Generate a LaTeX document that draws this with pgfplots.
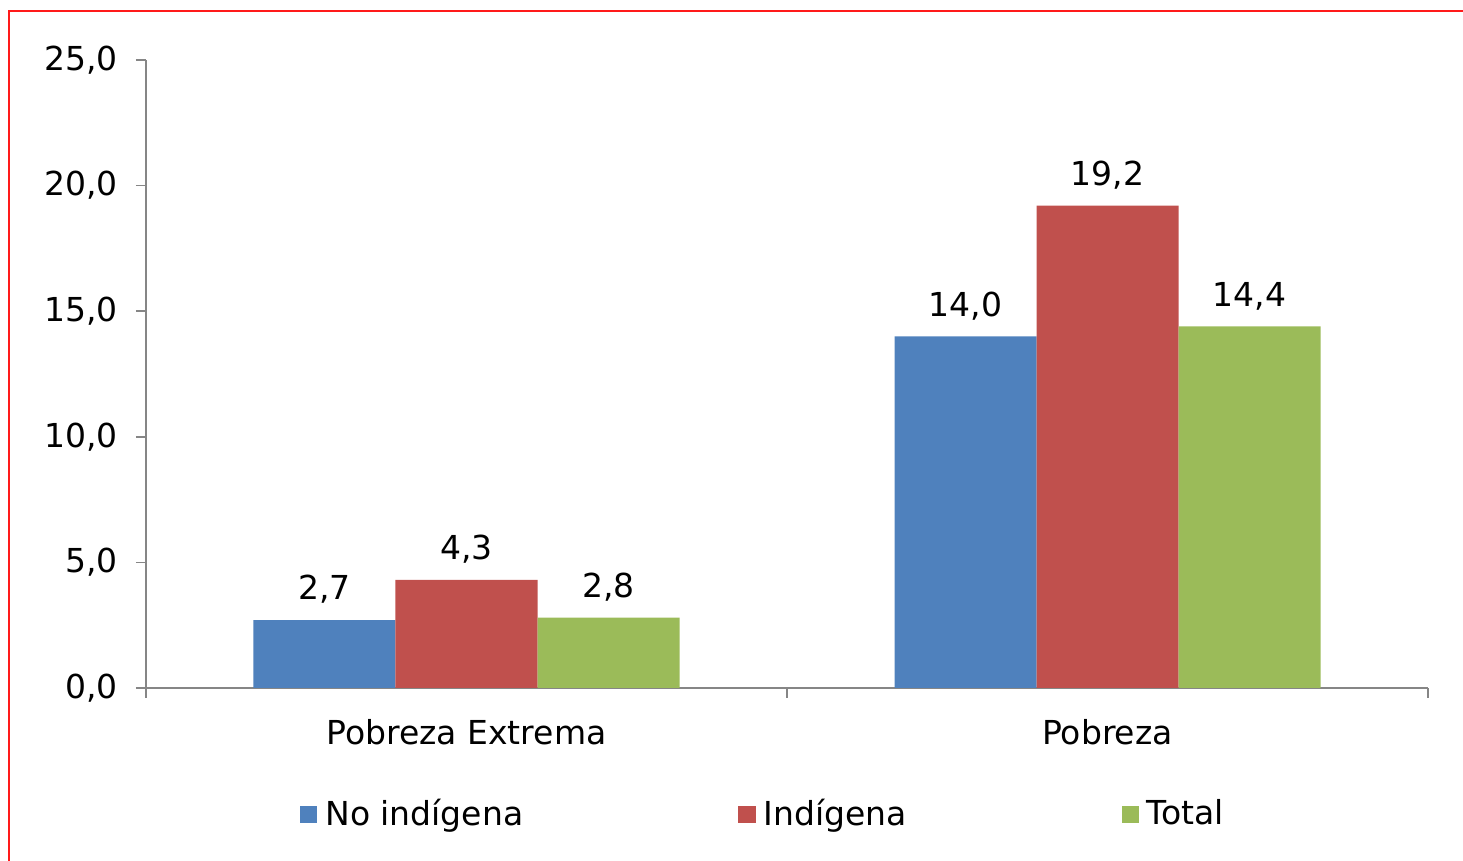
\documentclass[border=0pt]{standalone}
\usepackage{pgfplots}
\pgfplotsset{compat=1.18}
\usepackage{fontspec}
\setmainfont{DejaVu Sans}
\definecolor{cblue}{HTML}{4F81BD}
\definecolor{cred}{HTML}{C0504D}
\definecolor{cgreen}{HTML}{9BBB59}
\definecolor{axgray}{HTML}{868686}
\definecolor{frame}{HTML}{FF1A1A}
\begin{document}
\begin{tikzpicture}
\fontsize{16.5}{19}\selectfont
\path[use as bounding box] (0pt,0pt) rectangle (731.5pt,430.5pt);
\draw[frame, line width=1.2pt] (4.5pt,0pt) -- (4.5pt,425pt) -- (731.5pt,425pt);
\begin{axis}[
  at={(73pt,86.5pt)}, anchor=south west,
  scale only axis, width=641pt, height=314pt,
  xmin=-0.5, xmax=1.5, ymin=0, ymax=25,
  ybar=0pt, bar width=71pt,
  axis x line*=bottom, axis y line*=left,
  axis line style={axgray, line width=0.8pt},
  every tick/.style={axgray, line width=0.8pt},
  tick align=outside, major tick length=5pt,
  xtick={-0.5,0.5,1.5}, xticklabels={},
  extra x ticks={0,1}, extra x tick labels={Pobreza Extrema, Pobreza},
  extra x tick style={major tick length=0pt, xticklabel style={yshift=-10pt}},
  ytick={0,5,10,15,20,25},
  yticklabel style={xshift=-3.5pt},
  /pgf/number format/.cd, fixed, fixed zerofill, precision=1, use comma, assume math mode=true,
  /pgfplots/.cd,
  tick label style={font=\fontsize{16.5}{19}\selectfont},
  nodes near coords,
  nodes near coords style={font=\fontsize{16.5}{19}\selectfont, black, yshift=2.5pt, /pgf/number format/.cd, fixed, fixed zerofill, precision=1, use comma, assume math mode=true},
  legend columns=3,
  legend cell align=left,
  legend style={draw=none, at={(0.12,-0.202)}, anchor=west, inner sep=0pt,
    font=\fontsize{16.5}{19}\selectfont,
    /tikz/every even column/.append style={column sep=105.5pt},
    /tikz/every odd column/.append style={column sep=2pt}},
  legend image code/.code={\fill[#1] (0pt,-4.3pt) rectangle (8.6pt,4.3pt);},
]
\addplot[fill=cblue, draw=none] coordinates {(0,2.7) (1,14.0)};
\addplot[fill=cred, draw=none] coordinates {(0,4.3) (1,19.2)};
\addplot[fill=cgreen, draw=none] coordinates {(0,2.8) (1,14.4)};
\legend{No indígena, Indígena, Total}
\end{axis}
\end{tikzpicture}
\end{document}
